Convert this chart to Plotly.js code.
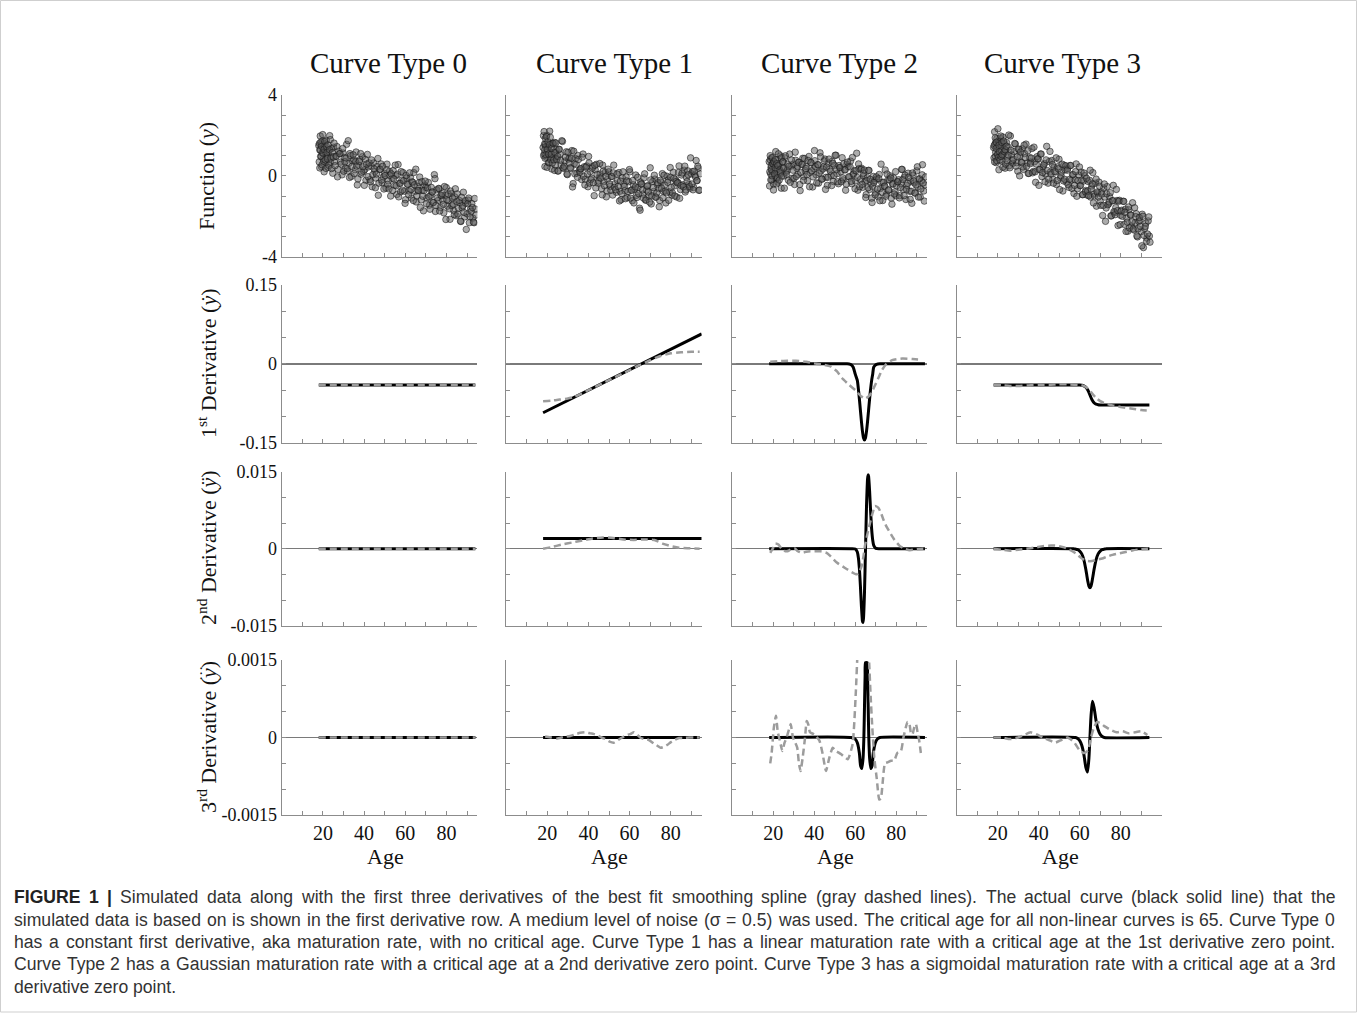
<!DOCTYPE html>
<html><head><meta charset="utf-8">
<script src="https://cdn.plot.ly/plotly-3.0.1.min.js"></script>
<style>html,body{margin:0;padding:0;background:#fff}</style>
</head><body><div id="chart" style="width:1357px;height:1035px"></div>
<script>
// ---------- Row 1: simulated data (Function y), two batches of subjects ----------
const ages = [18.0,18.2,18.5,18.7,18.9,19.1,19.3,19.6,19.8,20.1,20.3,20.6,20.8,21.2,21.4,21.7,21.9,22.2,22.6,22.9,23.3,23.6,23.9,24.3,24.8,25.1,25.6,26.2,26.8,27.4,28.0,28.6,29.3,29.8,30.4,30.9,31.5,32.0,32.6,33.1,33.8,34.4,34.9,35.6,36.1,36.7,37.4,38.0,38.5,39.2,39.8,40.3,40.9,41.6,42.1,42.8,43.3,43.9,44.6,45.2,45.7,46.4,46.9,47.5,48.2,48.7,49.3,49.9,50.6,51.1,51.8,52.3,52.9,53.6,54.1,54.8,55.3,55.9,56.5,57.2,57.7,58.3,58.9,59.6,60.1,60.7,61.3,61.8,62.5,63.0,63.6,64.1,64.8,65.3,65.9,66.4,67.0,67.7,68.2,68.8,69.4,70.0,70.5,71.2,71.7,72.3,72.9,73.4,74.1,74.6,75.2,75.9,76.4,77.0,77.6,78.2,78.7,79.4,79.9,80.5,81.2,81.7,82.3,82.9,83.5,84.0,84.7,85.2,85.8,86.5,87.0,87.6,88.2,88.8,89.3,90.0,90.5,91.1,91.7,92.3,92.8,93.4,94.0];
const fn0 = [1.50,0.69,1.28,1.97,0.96,1.56,0.45,1.14,1.73,0.82,1.31,0.20,1.59,1.17,0.66,1.75,0.94,1.33,0.42,1.20,1.99,0.68,0.96,1.35,0.13,1.42,0.70,0.97,1.45,0.32,1.10,0.68,0.05,1.13,0.90,0.38,1.56,0.24,0.62,1.10,-0.03,0.74,0.82,0.30,1.18,-0.45,0.52,0.80,0.08,0.95,0.23,0.31,-0.22,1.06,0.44,-0.19,0.49,-0.54,0.64,0.21,-0.11,0.46,-0.96,0.32,0.59,-0.33,-0.05,0.12,-0.60,0.58,-0.25,0.23,-1.00,-0.12,0.26,-0.47,0.01,-0.92,0.56,-0.37,-0.79,-0.21,0.16,-0.76,-1.18,-0.11,-0.43,-0.75,-0.08,-1.10,-0.32,0.16,-0.77,-1.29,-0.52,-0.74,-0.06,-1.19,-0.71,-1.73,-0.46,-0.58,-1.10,-0.33,-1.45,-0.97,-0.80,-1.32,0.06,-1.76,-0.69,-1.22,-0.64,-1.56,-0.98,-1.21,-1.83,-0.96,-0.58,-1.50,-1.23,-2.15,-0.87,-1.10,-1.72,-1.04,-1.97,-0.89,-1.61,-1.34,-2.26,-1.58,-0.81,-2.03,-1.35,-1.88,-1.20,-2.32,-1.65,-1.37,-2.09,-2.32,-1.64];
const fn1 = [1.40,1.99,1.08,1.57,0.46,1.85,1.44,0.92,2.01,1.19,1.58,0.65,1.44,2.21,0.90,1.17,1.56,0.34,1.61,0.89,1.17,1.65,0.53,1.30,0.86,0.24,1.31,1.07,0.54,1.70,0.37,0.73,1.19,0.06,0.83,0.90,0.37,1.25,-0.38,0.60,0.86,0.13,1.01,0.27,0.35,-0.18,1.08,0.45,-0.17,0.49,-0.54,0.64,0.21,-0.12,0.46,-0.98,0.30,0.57,-0.36,-0.09,0.09,-0.64,0.53,-0.29,0.18,-1.04,-0.17,0.20,-0.52,-0.03,-0.95,0.53,-0.39,-0.81,-0.22,0.16,-0.76,-1.18,-0.10,-0.42,-0.73,-0.05,-1.07,-0.29,0.20,-0.71,-1.23,-0.44,-0.65,0.04,-1.07,-0.58,-1.60,-0.30,-0.40,-0.90,-0.10,-1.20,-0.70,-0.50,-1.00,0.40,-1.39,-0.28,-0.77,-0.16,-1.05,-0.44,-0.63,-1.22,-0.31,0.11,-0.77,-0.46,-1.34,-0.02,-0.21,-0.79,-0.07,-0.95,0.18,-0.50,-0.18,-1.05,-0.33,0.49,-0.68,0.04,-0.44,0.28,-0.80,-0.08,0.25,-0.43,-0.61,0.10,0.21,-0.57,0.04,0.76,-0.23,0.38,-0.70];
const fn2 = [0.70,-0.50,0.80,0.10,0.40,0.90,-0.20,0.60,0.20,-0.40,0.70,0.50,0.00,1.20,-0.10,0.30,0.80,-0.31,0.49,0.59,0.09,0.99,-0.61,0.39,0.69,-0.01,0.89,0.18,0.28,-0.22,1.08,0.48,-0.12,0.58,-0.43,0.77,0.37,0.07,0.67,-0.73,0.57,0.87,-0.04,0.26,0.46,-0.24,0.96,0.16,0.65,-0.55,0.35,0.75,0.05,0.55,-0.36,1.14,0.24,-0.16,0.44,0.83,-0.07,-0.47,0.63,0.33,0.02,0.72,-0.28,0.52,1.02,0.11,-0.39,0.41,0.21,0.90,-0.20,0.30,-0.71,0.58,0.46,-0.06,0.73,-0.39,0.09,0.26,-0.25,1.12,-0.71,0.36,-0.18,0.38,-0.57,-0.01,-0.27,-0.93,-0.09,0.27,-0.67,-0.40,-1.32,-0.03,-0.24,-0.85,-0.15,-1.04,0.07,-0.62,-0.32,-1.22,-0.51,0.29,-0.91,-0.20,-0.70,0.00,-1.10,-0.40,-0.10,-0.79,-0.99,-0.29,-0.19,-0.98,-0.38,0.32,-0.68,-0.07,-1.17,-0.47,0.13,-0.76,-0.26,-1.36,0.04,-0.35,-0.85,0.25,-0.55,-0.15,-1.05,-0.25,0.55,-0.75,-0.45];
const fn3 = [1.40,0.89,2.18,1.57,0.96,1.66,0.65,1.84,1.43,1.12,1.71,0.30,1.59,1.87,0.96,1.25,1.44,0.73,1.92,1.10,1.59,0.38,1.26,1.65,0.93,1.42,0.50,1.97,1.05,0.62,1.20,1.58,0.65,0.23,1.30,0.98,0.66,1.34,0.32,1.10,1.57,0.64,0.12,0.90,0.68,1.35,0.22,0.70,-0.32,0.95,0.83,0.31,1.08,-0.04,0.44,0.61,0.09,1.46,-0.36,0.71,0.19,0.76,-0.16,0.42,0.19,-0.43,0.45,0.82,-0.10,0.18,-0.75,0.53,0.30,-0.32,0.36,-0.57,0.51,-0.22,0.06,-0.87,-0.19,0.59,-0.64,0.04,-0.48,0.19,-0.93,-0.26,0.01,-0.72,-0.95,-0.28,-0.22,-1.05,-0.50,0.16,-0.90,-0.36,-1.50,-0.85,-0.31,-1.26,-0.80,-1.96,-0.60,-1.05,-1.59,-0.53,-1.39,-1.03,-1.98,-1.23,-0.47,-1.82,-1.57,-1.22,-2.46,-1.21,-1.95,-1.70,-1.26,-2.40,-1.65,-2.09,-2.74,-1.68,-1.94,-2.48,-1.33,-2.68,-2.32,-1.87,-3.02,-2.26,-2.20,-2.76,-1.90,-3.55,-2.60,-2.34,-3.08,-2.23,-2.98];
const agesB = [18.3,18.5,18.8,19.0,19.2,19.4,19.6,19.9,20.1,20.4,20.6,20.9,21.1,21.5,21.7,22.0,22.2,22.5,22.9,23.2,23.6,23.9,24.2,24.6,25.1,25.4,25.9,26.5,27.1,27.7,28.3,28.9,29.6,30.1,30.7,31.2,31.8,32.3,32.9,33.4,34.1,34.7,35.2,35.9,36.4,37.0,37.7,38.3,38.8,39.5,40.1,40.6,41.2,41.9,42.4,43.1,43.6,44.2,44.9,45.5,46.0,46.7,47.2,47.8,48.5,49.0,49.6,50.2,50.9,51.4,52.1,52.6,53.2,53.9,54.4,55.1,55.6,56.2,56.8,57.5,58.0,58.6,59.2,59.9,60.4,61.0,61.6,62.1,62.8,63.3,63.9,64.4,65.1,65.6,66.2,66.7,67.3,68.0,68.5,69.1,69.7,70.3,70.8,71.5,72.0,72.6,73.2,73.7,74.4,74.9,75.5,76.2,76.7,77.3,77.9,78.5,79.0,79.7,80.2,80.8,81.5,82.0,82.6,83.2,83.8,84.3,85.0,85.5,86.1,86.8,87.3,87.9,88.5,89.1,89.6,90.3,90.8,91.4,92.0,92.6,93.1,93.7,94.3];
const fn0B = [1.60,0.39,1.28,1.67,0.96,1.46,0.55,2.04,1.13,0.72,1.31,1.70,0.79,0.37,1.46,1.15,0.84,1.53,0.52,1.30,1.79,0.88,0.36,1.15,0.93,1.62,0.50,0.97,-0.05,1.22,1.10,0.58,1.35,0.23,0.70,0.88,0.36,1.74,-0.08,1.00,0.47,1.04,0.12,0.70,0.48,-0.15,0.72,1.10,0.18,0.45,-0.47,0.81,0.58,-0.04,0.64,-0.29,0.79,0.06,0.34,-0.59,0.09,0.86,-0.36,0.32,-0.21,0.47,-0.65,0.02,0.30,-0.42,-0.65,0.03,0.10,-0.72,-0.14,0.53,-0.49,0.08,-1.04,-0.37,0.21,-0.71,-0.24,-1.36,0.02,-0.41,-0.93,0.15,-0.68,-0.30,-1.22,-0.44,0.33,-0.99,-0.72,-0.34,-1.56,-0.29,-1.01,-0.73,-0.26,-1.38,-0.60,-1.03,-1.65,-0.57,-0.80,-1.32,-0.14,-1.46,-1.09,-0.62,-1.74,-0.96,-0.88,-1.41,-0.53,-2.16,-1.18,-0.90,-1.63,-0.75,-1.47,-1.40,-1.92,-0.64,-1.27,-1.89,-1.21,-2.24,-1.06,-1.48,-1.81,-1.23,-2.65,-1.38,-1.10,-2.02,-1.75,-1.57,-2.29,-1.12,-1.94];
const fn1B = [1.00,2.19,1.28,0.87,1.56,1.05,1.94,0.42,1.31,1.69,1.08,0.65,1.54,1.91,0.80,1.07,1.36,0.64,1.61,0.79,0.27,1.15,1.63,0.80,0.96,0.24,1.31,0.77,1.74,0.40,0.47,0.93,0.09,1.16,0.63,0.40,0.87,-0.55,1.22,0.10,0.56,-0.07,0.81,0.17,0.35,0.92,-0.02,-0.45,0.43,0.09,0.96,-0.36,-0.19,0.38,-0.34,0.52,-0.60,0.07,-0.26,0.61,-0.11,-0.94,0.23,-0.49,-0.02,-0.74,0.33,-0.40,-0.72,-0.03,0.15,-0.57,-0.69,0.09,-0.52,-1.24,-0.26,-0.88,0.20,-0.52,-1.13,-0.25,-0.77,0.31,-1.10,-0.71,-0.23,-1.34,-0.55,-0.96,-0.07,-0.88,-1.70,-0.40,-0.70,-1.10,0.10,-1.20,-0.50,-0.80,-1.30,-0.20,-0.99,-0.58,0.03,-1.06,-0.85,-0.34,-1.53,-0.22,-0.61,-1.09,0.03,-0.76,-0.84,-0.32,-1.21,0.41,-0.57,-0.85,-0.12,-1.00,-0.28,-0.35,0.17,-1.11,-0.48,0.14,-0.54,0.48,-0.70,-0.28,0.05,-0.53,0.89,-0.40,-0.69,0.23,-0.06,-0.24,0.47,-0.72,0.10];
const fn2B = [0.20,1.00,-0.20,0.50,0.30,0.00,0.90,0.60,-0.70,0.70,0.10,0.40,0.80,-0.40,0.60,-0.10,0.50,1.09,-0.21,0.29,0.19,0.89,-0.01,0.69,0.39,-0.61,0.99,0.08,0.58,0.48,-0.32,0.78,0.28,-0.12,1.17,-0.03,0.47,0.67,-0.43,0.17,0.57,-0.23,0.86,0.36,0.06,0.76,-0.54,0.66,0.25,-0.05,1.25,0.45,-0.35,0.55,0.14,0.94,-0.16,0.34,0.74,-0.67,0.43,-0.07,0.83,0.23,-0.48,0.62,0.02,1.02,0.32,-0.29,0.51,0.41,-0.29,-0.10,0.60,0.30,-0.41,0.68,-0.04,0.44,-0.27,0.91,0.09,-0.64,0.25,-0.08,0.59,-0.54,0.32,-0.42,0.13,0.29,-1.07,-0.23,-0.59,0.27,-0.17,-1.10,-0.52,-0.33,-0.94,-0.05,-0.65,-0.14,-1.23,0.58,-0.82,-0.32,-0.51,-1.01,0.09,-0.70,-0.20,-0.10,-1.40,-0.40,-0.90,0.21,-0.49,-0.29,-1.09,-0.58,0.32,-0.18,-0.98,0.03,-0.67,-0.37,-0.07,-1.16,-0.76,0.14,-0.26,-0.85,-0.45,0.45,-1.05,-0.15,-0.65,0.05,-0.35,-1.25,-0.05];
const fn3B = [1.50,0.69,1.88,1.17,1.36,1.66,0.75,1.04,2.33,0.92,1.51,1.20,0.79,1.97,0.96,1.65,1.04,0.43,1.72,1.20,1.29,0.58,1.46,0.75,1.03,2.02,0.40,1.27,0.75,0.82,1.60,0.48,0.95,1.33,0.00,1.18,0.66,0.44,1.52,0.90,0.47,1.24,0.12,0.60,0.88,0.15,1.42,0.20,0.58,0.85,-0.47,0.31,1.08,0.16,0.54,-0.29,0.79,0.26,-0.16,1.21,0.09,0.56,-0.36,0.22,0.89,-0.23,0.35,-0.68,0.00,0.58,-0.25,-0.17,0.50,0.28,-0.44,-0.17,0.51,-0.62,0.06,-0.47,0.21,-1.01,-0.24,0.44,-0.48,-0.21,-0.93,0.14,-0.79,-0.12,-0.75,-0.98,0.28,-0.65,-0.40,-1.34,-1.00,-0.16,-0.80,-1.05,-0.51,-1.46,-0.90,-1.46,-0.40,-2.25,-0.89,-1.43,-1.29,-0.83,-1.98,-1.23,-1.77,-1.92,-0.67,-1.72,-1.26,-2.41,-1.75,-2.00,-1.26,-1.80,-2.75,-2.29,-1.54,-2.58,-1.94,-2.28,-2.63,-1.58,-2.02,-2.97,-2.62,-2.06,-2.50,-3.46,-2.00,-2.95,-2.50,-3.24,-2.88,-2.03,-3.28];

// ---------- Row 2: first derivative (T = actual curve, F = spline fit) ----------
const d1AgeT0 = [18, 94], d1True0 = [-0.04, -0.04];
const d1AgeF0 = [18, 94], d1Fit0 = [-0.04, -0.04];
const d1AgeT1 = [18, 95], d1True1 = [-0.093, 0.057];
const d1AgeF1 = [18,22,26,30,33,40,50,60,65,70,75,80,85,90,94];
const d1Fit1  = [-0.071,-0.070,-0.068,-0.066,-0.063,-0.050,-0.031,-0.012,-0.002,0.007,0.015,0.020,0.022,0.023,0.023];
const d1AgeT2 = [18,56,57,58,59,60,61,61.5,62,62.5,63,63.5,64,64.5,65,65.5,66,66.5,67,67.5,68,68.5,69,70,71,72,73,94];
const d1True2 = [0,0,-0.0003,-0.0016,-0.0064,-0.0196,-0.0314,-0.047,-0.0664,-0.088,-0.1095,-0.128,-0.1405,-0.145,-0.1405,-0.128,-0.1095,-0.088,-0.0664,-0.047,-0.0314,-0.0196,-0.0064,-0.0016,-0.0003,0,0,0];
const d1AgeF2 = [18.5,22,27,31,36,41,45,48,51,53.5,57,60,63,65,67,68.5,70,71.5,73,75,78,83,88,92];
const d1Fit2  = [0.004,0.005,0.006,0.006,0.004,0.000,-0.002,-0.005,-0.014,-0.027,-0.040,-0.050,-0.062,-0.066,-0.060,-0.050,-0.038,-0.025,-0.012,-0.001,0.007,0.010,0.009,0.008];
const d1AgeT3 = [18,58,60,61,62,63,64,64.5,65,65.5,66,67,68,69,70,72,94];
const d1True3 = [-0.040,-0.040,-0.0403,-0.0407,-0.0418,-0.0446,-0.0504,-0.0545,-0.0593,-0.0640,-0.0681,-0.0739,-0.0767,-0.0778,-0.0782,-0.0785,-0.0785];
const d1AgeF3 = [18,22,26,30,35,40,45,50,55,60,62,64,66,68,70,73,76,80,85,90,94];
const d1Fit3  = [-0.040,-0.041,-0.042,-0.042,-0.041,-0.040,-0.040,-0.039,-0.039,-0.040,-0.042,-0.047,-0.056,-0.065,-0.071,-0.076,-0.079,-0.082,-0.085,-0.088,-0.089];

// ---------- Row 3: second derivative ----------
const d2AgeT0 = [18, 94], d2True0 = [0, 0];
const d2AgeF0 = [18, 94], d2Fit0 = [0, 0];
const d2AgeT1 = [18, 95], d2True1 = [0.002, 0.002];
const d2AgeF1 = [18,22,27,32,37,42,47,52,57,62,67,72,76,80,84,88,94];
const d2Fit1  = [0.0000,0.0003,0.0008,0.0012,0.0016,0.0020,0.0022,0.0021,0.0018,0.0017,0.0018,0.0017,0.0010,0.0005,0.0002,0.0001,0.0000];
const d2AgeT2 = [18,58,60,61,61.5,62,62.5,63,63.5,63.7,64,64.5,65,65.5,66,66.3,66.5,67,67.5,68,68.5,69,70,72,94];
const d2True2 = [0,0,-0.00006,-0.00064,-0.0017,-0.0038,-0.0072,-0.0112,-0.0141,-0.0144,-0.0136,-0.0085,0,0.0085,0.0136,0.0144,0.0141,0.0112,0.0072,0.0038,0.0017,0.00064,0.00006,0,0];
const d2AgeF2 = [18.5,20,21,22.5,24,26,27.5,29,30.6,32,34,36,38,40,43,46,48,51,54,56,58,60.7,62,63.1,64,64.7,66,67.2,68.5,69.6,71.2,72.5,73.7,75,77,79,81.8,84,86.6,90,93.2];
const d2Fit2  = [-0.0008,0.0002,0.0010,0.0008,0.0000,-0.0005,-0.0004,0.0000,0.0000,-0.0005,-0.0008,-0.0006,-0.0005,-0.0005,-0.0005,-0.0008,-0.0015,-0.0027,-0.0035,-0.0040,-0.0045,-0.0050,-0.0045,-0.0034,-0.0015,0.0005,0.0030,0.0050,0.0070,0.0083,0.0080,0.0070,0.0057,0.0045,0.0031,0.0018,0.0005,0.0000,-0.0003,-0.0001,0.0000];
const d2AgeT3 = [18,57,58,59,60,61,62,63,63.5,64,64.5,65,65.5,66,66.5,67,68,69,70,71,72,73,94];
const d2True3 = [0,0,-0.00009,-0.0002,-0.00046,-0.00101,-0.00213,-0.00406,-0.00526,-0.00642,-0.00728,-0.0076,-0.00728,-0.00642,-0.00526,-0.00406,-0.00213,-0.00101,-0.00046,-0.0002,-0.00009,0,0];
const d2AgeF3 = [18,22,26,30,34,38,42,46,48,50,52,54,56,58,61,64,66,68,71,73,76,79.5,83,86,90,93.3];
const d2Fit3  = [0.0000,-0.0002,-0.0004,-0.0002,0.0000,0.0002,0.0005,0.0006,0.0006,0.0005,0.0003,0.0000,-0.0004,-0.0009,-0.0019,-0.0024,-0.0024,-0.0022,-0.0019,-0.0016,-0.0012,-0.0009,-0.0006,-0.0003,-0.0001,0.0000];

// ---------- Row 4: third derivative ----------
const d3AgeT0 = [18, 94], d3True0 = [0, 0];
const d3AgeF0 = [18, 94], d3Fit0 = [0, 0];
const d3AgeT1 = [18, 94], d3True1 = [0, 0];
const d3AgeF1 = [19,22,24.7,28,31.2,33.5,36,38.5,40.9,42.5,44.2,46.3,48.3,50.3,52.3,54.4,56.4,58.9,60.5,62.1,63.8,65.4,67.4,69.4,71.9,73.5,75.1,76.7,78.4,80,81.6,84,86.5,89,91.4,94];
const d3Fit1  = [0.00002,0.0,-0.00002,0.00001,0.00003,0.00006,0.00009,0.0001,0.00008,0.00007,0.00005,0.0,-0.00003,-0.00008,-0.0001,-0.00005,0.0,0.00005,0.00007,0.0001,0.00005,-0.00001,-0.00003,-0.00005,-0.00012,-0.00016,-0.0002,-0.00018,-0.00014,-0.00009,-0.00005,-0.00001,-0.00001,0.0,0.0,0.0];
const d3AgeT2 = [18,58,60,61,62,62.6,63.2,63.8,64.2,64.5,64.8,65.0,65.8,66.0,66.3,66.6,67.0,67.6,68.2,68.8,69.8,70.8,72,94];
const d3True2 = [0,0,-0.00003,-0.0001,-0.0003,-0.00055,-0.0006,-0.0004,0.0000,0.0006,0.0012,0.00145,0.00145,0.0012,0.0006,0.0000,-0.0004,-0.0006,-0.00055,-0.0003,-0.0001,-0.00003,0,0];
const d3AgeF2 = [18.5,19.2,20.3,21.3,22.2,23.2,24.4,25.5,26.5,27.6,28.5,29.6,30.7,31.7,32.5,33.3,34.3,35.5,36.3,37.1,37.9,40,42.5,44.1,45.7,47.3,49,50.6,53,56.3,58.7,60.3,61.2,62.5,64,65.5,66.6,67.5,68.3,69.3,70.5,71.7,72.5,73.3,74.5,75.8,77.5,79,80.5,82.3,83.5,84.7,85.5,86.3,87.1,87.9,88.8,89.6,90.4,91.2,92];
const d3Fit2  = [-0.0005,-0.0003,0.0002,0.00042,0.0001,-0.00006,-0.00026,-0.0001,0.0,0.00015,0.00026,0.0,-0.0001,-0.0002,-0.0005,-0.00065,-0.0004,0.0,0.00032,0.00025,0.0001,0.00006,-0.00006,-0.00032,-0.00065,-0.0004,-0.0002,-0.00026,-0.00032,-0.00042,-0.00013,0.0009,0.0017,0.0022,0.0025,0.0022,0.0016,0.0008,0.0002,-0.0004,-0.0008,-0.0012,-0.00118,-0.0009,-0.0005,-0.00048,-0.00045,-0.00045,-0.0003,-0.00026,0.0,0.0002,0.0003,0.00029,0.0001,0.00006,0.0002,0.00026,0.0001,-0.00006,-0.0003];
const d3AgeT3 = [18,58,59,60,61,62,63,63.8,64.5,65,65.5,66.2,67,68,69,70,71,72,94];
const d3True3 = [0,0,-0.00002,-0.00006,-0.00015,-0.00032,-0.00058,-0.00067,-0.0004,0,0.0004,0.0007,0.00058,0.00032,0.00015,0.00006,0.00002,0,0];
const d3AgeF3 = [18,22,26,30,33,36,39,42,45,48,51,54,57,60,62,64,65.5,67,68.5,70,72,75,78,81,84,87,90,93];
const d3Fit3  = [0.0,0.0,-0.00003,0.0,0.00005,0.0001,0.00006,0.0,-0.00005,-0.0001,-0.00005,0.0,-0.00008,-0.00025,-0.0003,-0.00025,0.0,0.0002,0.0003,0.00028,0.00022,0.00015,0.0001,0.00012,0.00008,0.0001,0.00012,0.00005];

// ---------- Labels ----------
const colTitles = ['Curve Type 0','Curve Type 1','Curve Type 2','Curve Type 3'];
const rowTitles = ['Function (<i>y</i>)','1<sup>st</sup> Derivative (<i>ẏ</i>)','2<sup>nd</sup> Derivative (<i>ÿ</i>)','3<sup>rd</sup> Derivative (<i>y</i>)'];
const tripleDot = '···';
const yTickVals = [[-4,0,4],[-0.15,0,0.15],[-0.015,0,0.015],[-0.0015,0,0.0015]];
const yTickText = [['-4','0','4'],['-0.15','0','0.15'],['-0.015','0','0.015'],['-0.0015','0','0.0015']];
const yMinorStep = [1, 0.05, 0.005, 0.0005];
const xTickVals = [20,40,60,80];
const xTickText = ['20','40','60','80'];
const captionLines = [
 'Simulated data along with the first three derivatives of the best fit smoothing spline (gray dashed lines). The actual curve (black solid line) that the',
 'simulated data is based on is shown in the first derivative row. A medium level of noise (σ = 0.5) was used. The critical age for all non-linear curves is 65. Curve Type 0',
 'has a constant first derivative, aka maturation rate, with no critical age. Curve Type 1 has a linear maturation rate with a critical age at the 1st derivative zero point.',
 'Curve Type 2 has a Gaussian maturation rate with a critical age at a 2nd derivative zero point. Curve Type 3 has a sigmoidal maturation rate with a critical age at a 3rd',
 'derivative zero point.'
];
const captionLead = 'FIGURE 1 |';

// ---------- Build ----------
const W = 1357, H = 1035;
const colPx = [[281.7,477.4],[506,701.7],[732.3,927],[956.7,1161.7]];
const colRange = [[0,95],[0,95],[0,95],[0,100]];
const rowPx = [[95,256.7],[285,442.7],[471.7,625.7],[660,815]];
const rowRange = [[-4,4],[-0.15,0.15],[-0.015,0.015],[-0.0015,0.0015]];
const serif = 'Liberation Serif, Times New Roman, serif';

const fnSets = [[fn0, fn0B], [fn1, fn1B], [fn2, fn2B], [fn3, fn3B]];
const lineSets = [
 [[d1AgeT0,d1True0,d1AgeF0,d1Fit0],[d1AgeT1,d1True1,d1AgeF1,d1Fit1],[d1AgeT2,d1True2,d1AgeF2,d1Fit2],[d1AgeT3,d1True3,d1AgeF3,d1Fit3]],
 [[d2AgeT0,d2True0,d2AgeF0,d2Fit0],[d2AgeT1,d2True1,d2AgeF1,d2Fit1],[d2AgeT2,d2True2,d2AgeF2,d2Fit2],[d2AgeT3,d2True3,d2AgeF3,d2Fit3]],
 [[d3AgeT0,d3True0,d3AgeF0,d3Fit0],[d3AgeT1,d3True1,d3AgeF1,d3Fit1],[d3AgeT2,d3True2,d3AgeF2,d3Fit2],[d3AgeT3,d3True3,d3AgeF3,d3Fit3]]
];

const traces = [];
const layout = {
  width: W, height: H, margin: {l:0, r:0, t:0, b:0},
  paper_bgcolor: '#fff', plot_bgcolor: 'rgba(0,0,0,0)', showlegend: false,
  annotations: [], shapes: []
};
const axisCol = '#8c8c8c';
for (let r = 0; r < 4; r++) {
  for (let c = 0; c < 4; c++) {
    const n = r*4 + c + 1;
    const xs = n === 1 ? '' : String(n);
    const xa = 'x' + xs, ya = 'y' + xs;
    layout['xaxis' + xs] = {
      domain: [colPx[c][0]/W, colPx[c][1]/W], range: colRange[c], anchor: ya,
      showline: true, linecolor: axisCol, linewidth: 1, showgrid: false, zeroline: false,
      ticks: 'inside', ticklen: 4, tickcolor: axisCol, tickwidth: 1,
      tickmode: 'array', tickvals: xTickVals, ticktext: xTickText,
      minor: {tick0: 0, dtick: 10, ticks: 'inside', ticklen: 4, tickcolor: axisCol, tickwidth: 1, showgrid: false},
      showticklabels: r === 3, tickfont: {family: serif, size: 20, color: '#111'}
    };
    layout['yaxis' + xs] = {
      domain: [1 - rowPx[r][1]/H, 1 - rowPx[r][0]/H], range: rowRange[r], anchor: xa,
      showline: true, linecolor: axisCol, linewidth: 1, showgrid: false,
      zeroline: r > 0, zerolinecolor: '#7a7a7a', zerolinewidth: 1.3,
      ticks: 'inside', ticklen: 4, tickcolor: axisCol, tickwidth: 1,
      tickmode: 'array', tickvals: yTickVals[r], ticktext: yTickText[r],
      minor: {tick0: 0, dtick: yMinorStep[r], ticks: 'inside', ticklen: 4, tickcolor: axisCol, tickwidth: 1, showgrid: false},
      showticklabels: c === 0, tickfont: {family: serif, size: 18, color: '#111'}
    };
    if (r === 0) {
      [[ages, fnSets[c][0]], [agesB, fnSets[c][1]]].forEach(([ax, ay]) => traces.push({
        type: 'scatter', mode: 'markers', x: ax, y: ay, xaxis: xa, yaxis: ya,
        marker: {size: 6.5, color: 'rgba(90,90,90,0.5)', line: {color: 'rgba(20,20,20,0.7)', width: 0.8}},
        hoverinfo: 'skip'
      }));
    } else {
      const s = lineSets[r-1][c];
      traces.push({type: 'scatter', mode: 'lines', x: s[0], y: s[1], xaxis: xa, yaxis: ya,
        line: {color: '#000', width: 3, shape: 'spline', smoothing: 0.6}, hoverinfo: 'skip'});
      traces.push({type: 'scatter', mode: 'lines', x: s[2], y: s[3], xaxis: xa, yaxis: ya,
        line: {color: '#9c9c9c', width: 2.5, dash: '7px,4px', shape: 'spline', smoothing: 0.5}, hoverinfo: 'skip'});
    }
  }
}

const ctx = document.createElement('canvas').getContext('2d');
function textW(t, font) { ctx.font = font; return ctx.measureText(t).width; }

// column titles
const colCenters = [388, 614, 839, 1062];
colTitles.forEach((t, i) => layout.annotations.push({
  text: t, xref: 'paper', yref: 'paper', x: colCenters[i]/W, y: 1 - 63/H,
  showarrow: false, xanchor: 'center', yanchor: 'middle',
  font: {family: serif, size: 29, color: '#111'}
}));
// row titles
const rowCenters = [176, 363, 548, 737];
const titleSize = 22, titleX = 207;
rowTitles.forEach((t, i) => layout.annotations.push({
  text: t, xref: 'paper', yref: 'paper', x: titleX/W, y: 1 - rowCenters[i]/H,
  showarrow: false, xanchor: 'center', yanchor: 'middle', textangle: -90,
  font: {family: serif, size: titleSize, color: '#111'}
}));
// three dots above the italic y of the third-derivative title
{
  const f = titleSize + 'px "Liberation Serif"';
  const w3 = textW('3', f), wrd = textW('rd', (titleSize*0.7) + 'px "Liberation Serif"');
  const wD = textW(' Derivative (', f), wy = textW('y', 'italic ' + f), wp = textW(')', f);
  const L = w3 + wrd + wD + wy + wp;
  const cy = rowCenters[3] + L/2 - (w3 + wrd + wD + wy*0.55);
  const cx = titleX + 0.34*titleSize - 0.5*titleSize - 2.5;
  layout.annotations.push({text: tripleDot, xref: 'paper', yref: 'paper', x: cx/W, y: 1 - cy/H, showarrow: false,
    xanchor: 'center', yanchor: 'middle', textangle: -90, borderpad: 0,
    font: {family: serif, size: 15, color: '#111'}});
}
// Age labels
const ageCenters = [385, 609, 835, 1060];
ageCenters.forEach(xc => layout.annotations.push({
  text: 'Age', xref: 'paper', yref: 'paper', x: xc/W, y: 1 - 856/H,
  showarrow: false, xanchor: 'center', yanchor: 'middle',
  font: {family: serif, size: 22, color: '#111'}
}));

// caption: justified lines built word by word
const capFont = 17.6, capFam = 'Liberation Sans';
const capY = [897, 920, 942, 964, 987];
const capLeft = 13, capRight = 1334;
function measure(t, bold) { return textW(t, (bold ? 'bold ' : '') + capFont + 'px "' + capFam + '"'); }
captionLines.forEach((line, i) => {
  const words = [];
  if (i === 0) captionLead.split(' ').forEach(w => words.push({t: w, b: true}));
  line.split(' ').forEach(w => words.push({t: w, b: false}));
  const widths = words.map(w => measure(w.t, w.b));
  const total = widths.reduce((a, b) => a + b, 0);
  const sp = measure(' ', false);
  const justify = i < captionLines.length - 1;
  const gap = justify ? Math.max(sp * 0.6, (capRight - capLeft - total) / (words.length - 1)) : sp;
  let x = capLeft;
  words.forEach((w, k) => {
    layout.annotations.push({
      text: w.b ? '<b>' + w.t + '</b>' : w.t, xref: 'paper', yref: 'paper', x: x/W, y: 1 - capY[i]/H,
      showarrow: false, xanchor: 'left', yanchor: 'middle', borderpad: 0,
      font: {family: 'Liberation Sans, Arial, sans-serif', size: capFont, color: w.b ? '#222' : '#333'}
    });
    x += widths[k] + gap;
  });
});
// frame
layout.shapes.push({type: 'rect', xref: 'paper', yref: 'paper', x0: 0.5/W, x1: 1 - 0.5/W, y0: 1 - 1012/H, y1: 1 - 0.5/H,
  line: {color: '#cfcfcf', width: 1}, fillcolor: 'rgba(0,0,0,0)', layer: 'below'});

Plotly.newPlot('chart', traces, layout, {staticPlot: true, displayModeBar: false});
</script></body></html>
